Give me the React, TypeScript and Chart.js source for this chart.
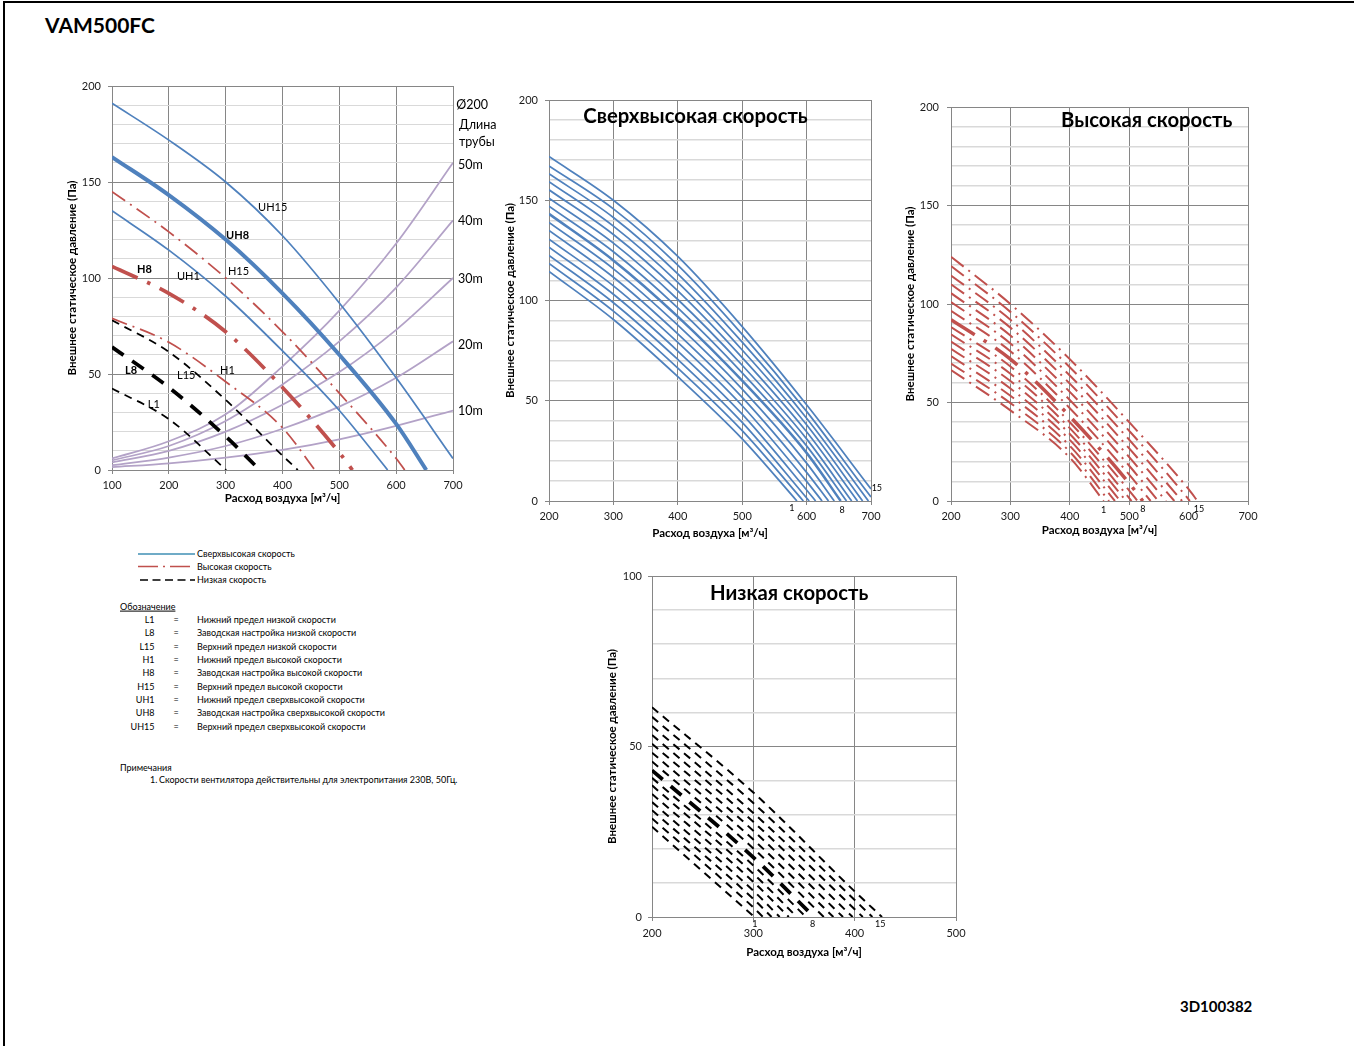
import React, { useEffect, useRef } from "react";
import { Chart, registerables } from "chart.js";

Chart.register(...registerables);

const FONT = "Lato, 'Open Sans', 'DejaVu Sans', sans-serif";
const BLUE = "#4f81bd";
const RED = "#c0504d";
const BLACK = "#000000";
const PURPLE = "#b3a2c7";
const MAJOR = "#868686";
const MINOR = "#d9d9d9";
const X_TITLE = "Расход воздуха [м³/ч]";
const Y_TITLE = "Внешнее статическое давление (Па)";

// ===== Summary chart: flow grid and curves (Pa) =====
const MAIN_X = [100, 200, 300, 400, 500, 600, 700];
const UH1_MAIN = [135, 114.5, 90.5, 62, 31];
const UH8_MAIN = [163, 143.2, 120, 92, 60, 24];
const UH15_MAIN = [191, 171.8, 150, 122, 87, 48, 6];
const H1_MAIN = [79, 66.5, 46, 22];
const H8_MAIN = [106, 92, 72, 43, 9];
const H15_MAIN = [145, 124, 100, 72, 40, 6];
const L1_MAIN = [42.5, 26.5];
const L8_MAIN = [64, 43, 17.5];
const L15_MAIN = [78, 61.5, 36.5, 7.5];
// flow at which each curve reaches 0 Pa (null = still above 0 at 700)
const UH1_END = 585;
const UH8_END = 653;
const H1_END = 457;
const H8_END = 523;
const H15_END = 615;
const L1_END = 301;
const L8_END = 360;
const L15_END = 427;
// duct resistance curves Ø200
const DUCT_50M = [6, 15, 29, 54, 83, 118, 160];
const DUCT_40M = [5, 12.5, 25.5, 44.5, 67, 95, 130];
const DUCT_30M = [4, 10, 20, 34, 51, 73, 100];
const DUCT_20M = [2.5, 6.5, 12.5, 21.5, 33, 48, 67];
const DUCT_10M = [1.5, 3.5, 6.5, 10.5, 16, 23, 31];

// ===== Ultra-high speed, steps 1..15 =====
const SPEED_X = [200, 300, 400, 500, 600, 700];
const UH_SERIES = [
  [114.5, 90.5, 62, 31],
  [118.5, 94.7, 66.3, 35.1],
  [122.5, 98.9, 70.6, 39.2],
  [126.6, 103.1, 74.8, 43.3, 5.5],
  [130.6, 107.3, 79.1, 47.5, 9.8],
  [134.9, 111.6, 83.4, 51.7, 14.3],
  [138.9, 115.8, 87.7, 55.8, 18.9],
  [143.2, 120, 92, 60, 24],
  [147, 124.3, 96.3, 63.9, 27.5],
  [151, 128.6, 100.5, 67.7, 31],
  [155.2, 132.9, 104.8, 71.5, 34.5],
  [159.3, 137.1, 109, 75.3, 38],
  [163.2, 141.4, 113.3, 79.2, 41.3],
  [167.1, 145.7, 117.6, 83.1, 44.7, 2],
  [171.8, 150, 122, 87, 48, 6],
];
const UH_ENDS = [585, 595, 604, 614, 624, 634, 643, 653, 662, 670, 679, 687, 696, 705, null];

// ===== High speed, steps 1..15 =====
const H_SERIES = [
  [66.5, 46, 22],
  [69.8, 49.7, 25],
  [73.6, 53.4, 28],
  [77.3, 57.1, 31],
  [80.9, 60.9, 34],
  [84.6, 64.6, 37, 1.5],
  [88.3, 68.3, 40, 5.3],
  [92, 72, 43, 9],
  [96.5, 76, 47.1, 13.4],
  [101, 80, 51.3, 17.9],
  [105.5, 84, 55.4, 22.3],
  [110, 88, 59.6, 26.7],
  [114.5, 92, 63.7, 31.1],
  [119.3, 96, 67.9, 35.6, 0.8],
  [124, 100, 72, 40, 6],
];
const H_ENDS = [457, 466, 476, 485, 495, 504, 514, 523, 536, 549, 562, 576, 589, 602, 615];

// ===== Low speed, steps 1..15 =====
const LOW_X = [200, 300, 400];
const L_SERIES = [
  [26.5],
  [28.9, 2.8],
  [31.3, 5.3],
  [33.7, 7.7],
  [36.1, 10.3],
  [38.6, 12.7],
  [40.8, 15.1],
  [43, 17.5],
  [45.6, 20.1],
  [48.2, 22.7],
  [50.8, 25.3],
  [53.4, 27.9],
  [56, 30.5, 2.3],
  [58.7, 33.4, 5],
  [61.5, 36.5, 7.5],
];
const L_ENDS = [301, 309.5, 318, 326, 335, 343, 352, 360, 369.5, 379, 388.5, 398, 408, 417.5, 427];

// ===== Text labels placed in data coordinates =====
type Note = { t: string; x: number; y: number; size: number; bold?: boolean; align?: CanvasTextAlign };

const MAIN_NOTES: Note[] = [
  { t: "UH15", x: 357, y: 136.5, size: 11 },
  { t: "UH8", x: 300.6, y: 122.4, size: 11, bold: true },
  { t: "H8", x: 144, y: 104.2, size: 11, bold: true },
  { t: "UH1", x: 214.4, y: 101, size: 11 },
  { t: "H15", x: 304, y: 103.6, size: 11 },
  { t: "L8", x: 123, y: 52, size: 11, bold: true },
  { t: "L15", x: 214.4, y: 49, size: 11 },
  { t: "H1", x: 290, y: 52, size: 11 },
  { t: "L1", x: 163, y: 34, size: 11 },
  { t: "Ø200", x: 705.5, y: 190, size: 12.5 },
  { t: "Длина", x: 710.5, y: 179.7, size: 12.5 },
  { t: "трубы", x: 710.5, y: 170.8, size: 12.5 },
  { t: "50m", x: 709, y: 159, size: 12.5 },
  { t: "40m", x: 709, y: 129.7, size: 12.5 },
  { t: "30m", x: 709, y: 99.5, size: 12.5 },
  { t: "20m", x: 709, y: 65, size: 12.5 },
  { t: "10m", x: 709, y: 31, size: 12.5 },
];
const UH_NOTES: Note[] = [
  { t: "Сверхвысокая скорость", x: 253.3, y: 191.7, size: 20.3, bold: true },
  { t: "1", x: 577, y: -3.5, size: 9, align: "center" },
  { t: "8", x: 655, y: -4.5, size: 9, align: "center" },
  { t: "15", x: 701, y: 6.5, size: 9 },
];
const H_NOTES: Note[] = [
  { t: "Высокая скорость", x: 385.2, y: 193.4, size: 20.3, bold: true },
  { t: "1", x: 457, y: -4.6, size: 9, align: "center" },
  { t: "8", x: 523, y: -4.3, size: 9, align: "center" },
  { t: "15", x: 617.5, y: -4.3, size: 9, align: "center" },
];
const L_NOTES: Note[] = [
  { t: "Низкая скорость", x: 257.3, y: 94.8, size: 20.3, bold: true },
  { t: "1", x: 301.4, y: -2.1, size: 9, align: "center" },
  { t: "8", x: 358.5, y: -2.1, size: 9, align: "center" },
  { t: "15", x: 425.2, y: -2.1, size: 9, align: "center" },
];

const LEGEND_ROWS = [
  ["L1", "Нижний предел низкой скорости"],
  ["L8", "Заводская настройка низкой скорости"],
  ["L15", "Верхний предел низкой скорости"],
  ["H1", "Нижний предел высокой скорости"],
  ["H8", "Заводская настройка высокой скорости"],
  ["H15", "Верхний предел высокой скорости"],
  ["UH1", "Нижний предел сверхвысокой скорости"],
  ["UH8", "Заводская настройка сверхвысокой скорости"],
  ["UH15", "Верхний предел сверхвысокой скорости"],
];

// ===== helpers =====
function pts(xs: number[], ys: number[], end: number | null) {
  const out = ys.map((y, i) => ({ x: xs[i], y }));
  if (end !== null) out.push({ x: end, y: 0 });
  return out;
}

function line(data: any[], color: string, width: number, dash: number[] = []) {
  return {
    data,
    borderColor: color,
    borderWidth: width,
    borderDash: dash,
    borderCapStyle: "butt",
    borderJoinStyle: "round",
    pointRadius: 0,
    pointHoverRadius: 0,
    fill: false,
    cubicInterpolationMode: "monotone",
  };
}

function notesPlugin(id: string, list: Note[]) {
  return {
    id,
    afterDraw(chart: any) {
      const ctx = chart.ctx;
      const xs = chart.scales.x;
      const ys = chart.scales.y;
      ctx.save();
      ctx.fillStyle = "#000";
      ctx.textBaseline = "middle";
      for (const n of list) {
        ctx.font = `${n.bold ? "bold " : ""}${n.size}px ${FONT}`;
        ctx.textAlign = n.align ?? "left";
        ctx.fillText(n.t, xs.getPixelForValue(n.x), ys.getPixelForValue(n.y));
      }
      ctx.restore();
    },
  };
}

type AxisCfg = { min: number; max: number; size: number; tickPad: number; titlePad: number };

function zeroPad(s: any) {
  s.paddingTop = 0;
  s.paddingBottom = 0;
  s.paddingLeft = 0;
  s.paddingRight = 0;
}

function makeScales(xa: AxisCfg, ya: AxisCfg, minorWidth: number) {
  const isMajor = (c: any) => c.tick && Math.round(c.tick.value) % 50 === 0;
  const titleFont = { family: FONT, size: 11.5, weight: "700" };
  return {
    x: {
      type: "linear",
      min: xa.min,
      max: xa.max,
      afterFit: (s: any) => {
        s.height = xa.size;
        zeroPad(s);
      },
      ticks: {
        stepSize: 100,
        autoSkip: false,
        maxRotation: 0,
        padding: xa.tickPad,
        color: "#1a1a1a",
        font: { family: FONT, size: 11 },
      },
      grid: { color: MAJOR, lineWidth: 1, tickLength: 4, tickColor: MAJOR },
      border: { color: MAJOR, width: 1 },
      title: {
        display: true,
        text: X_TITLE,
        color: "#000",
        font: titleFont,
        padding: { top: 0, bottom: xa.titlePad },
      },
    },
    y: {
      type: "linear",
      min: ya.min,
      max: ya.max,
      afterFit: (s: any) => {
        s.width = ya.size;
        zeroPad(s);
      },
      ticks: {
        stepSize: 10,
        autoSkip: false,
        padding: ya.tickPad,
        color: "#1a1a1a",
        font: { family: FONT, size: 11 },
        callback: (v: any) => (Math.round(Number(v)) % 50 === 0 ? String(v) : ""),
      },
      grid: {
        color: (c: any) => (isMajor(c) ? MAJOR : MINOR),
        lineWidth: (c: any) => (isMajor(c) ? 1 : minorWidth),
        tickLength: 4,
        tickColor: (c: any) => (isMajor(c) ? MAJOR : "rgba(0,0,0,0)"),
      },
      border: { color: MAJOR, width: 1 },
      title: {
        display: true,
        text: Y_TITLE,
        color: "#000",
        font: titleFont,
        padding: { top: ya.titlePad, bottom: 0 },
      },
    },
  };
}

function baseOptions(padding: any, scales: any) {
  return {
    responsive: false,
    animation: false,
    devicePixelRatio: 1,
    layout: { padding, autoPadding: false },
    plugins: { legend: { display: false }, tooltip: { enabled: false } },
    scales,
  };
}

// ===== chart configs =====
const THIN_DASHDOT = [16, 6, 2, 6];
const THICK_DASHDOT = [28, 10.5, 3.5, 10.5];
const THIN_DASH = [8, 6];
const THICK_DASH = [14, 10.5];

function mainConfig() {
  const datasets = [
    line(pts(MAIN_X, UH15_MAIN, null), BLUE, 1.75),
    line(pts(MAIN_X, UH8_MAIN, UH8_END), BLUE, 4),
    line(pts(MAIN_X, UH1_MAIN, UH1_END), BLUE, 1.75),
    line(pts(MAIN_X, H15_MAIN, H15_END), RED, 1.75, THIN_DASHDOT),
    line(pts(MAIN_X, H8_MAIN, H8_END), RED, 3.75, THICK_DASHDOT),
    line(pts(MAIN_X, H1_MAIN, H1_END), RED, 1.75, THIN_DASHDOT),
    line(pts(MAIN_X, L15_MAIN, L15_END), BLACK, 1.75, THIN_DASH),
    line(pts(MAIN_X, L8_MAIN, L8_END), BLACK, 3.75, THICK_DASH),
    line(pts(MAIN_X, L1_MAIN, L1_END), BLACK, 1.75, THIN_DASH),
    line(pts(MAIN_X, DUCT_50M, null), PURPLE, 1.75),
    line(pts(MAIN_X, DUCT_40M, null), PURPLE, 1.75),
    line(pts(MAIN_X, DUCT_30M, null), PURPLE, 1.75),
    line(pts(MAIN_X, DUCT_20M, null), PURPLE, 1.75),
    line(pts(MAIN_X, DUCT_10M, null), PURPLE, 1.75),
  ];
  return {
    type: "line",
    data: { datasets },
    options: baseOptions(
      { top: 11, right: 57, left: 0, bottom: 0 },
      makeScales(
        { min: 100, max: 700, size: 36, tickPad: 5, titlePad: 1 },
        { min: 0, max: 200, size: 52, tickPad: 7, titlePad: 5 },
        1
      )
    ),
    plugins: [notesPlugin("mainNotes", MAIN_NOTES)],
  };
}

function uhConfig() {
  const datasets = UH_SERIES.map((ys, i) =>
    line(pts(SPEED_X, ys, UH_ENDS[i]), BLUE, i === 7 ? 2.5 : 1.75)
  );
  return {
    type: "line",
    data: { datasets },
    options: baseOptions(
      { top: 10, right: 20, left: 0, bottom: 0 },
      makeScales(
        { min: 200, max: 700, size: 40, tickPad: 5, titlePad: 1 },
        { min: 0, max: 200, size: 49, tickPad: 7, titlePad: 3 },
        1.5
      )
    ),
    plugins: [notesPlugin("uhNotes", UH_NOTES)],
  };
}

function hConfig() {
  const datasets = H_SERIES.map((ys, i) =>
    line(pts(SPEED_X, ys, H_ENDS[i]), RED, i === 7 ? 3.5 : 2, i === 7 ? THICK_DASHDOT : THIN_DASHDOT)
  );
  return {
    type: "line",
    data: { datasets },
    options: baseOptions(
      { top: 12, right: 12, left: 0, bottom: 0 },
      makeScales(
        { min: 200, max: 700, size: 36, tickPad: 5, titlePad: 0 },
        { min: 0, max: 200, size: 56, tickPad: 8, titlePad: 8 },
        1.5
      )
    ),
    plugins: [notesPlugin("hNotes", H_NOTES)],
  };
}

function lConfig() {
  const datasets = L_SERIES.map((ys, i) =>
    line(pts(LOW_X, ys, L_ENDS[i]), BLACK, i === 7 ? 3.75 : 2, i === 7 ? THICK_DASH : THIN_DASH)
  );
  return {
    type: "line",
    data: { datasets },
    options: baseOptions(
      { top: 11, right: 20, left: 0, bottom: 0 },
      makeScales(
        { min: 200, max: 500, size: 44, tickPad: 6, titlePad: 1.5 },
        { min: 0, max: 100, size: 52, tickPad: 6, titlePad: 5 },
        1.5
      )
    ),
    plugins: [notesPlugin("lNotes", L_NOTES)],
  };
}

// ===== components =====
function ChartCanvas(props: { left: number; top: number; width: number; height: number; make: () => any }) {
  const ref = useRef<HTMLCanvasElement>(null);
  useEffect(() => {
    const chart = new Chart(ref.current as HTMLCanvasElement, props.make());
    return () => chart.destroy();
  }, []);
  return (
    <canvas
      ref={ref}
      width={props.width}
      height={props.height}
      style={{ position: "absolute", left: props.left, top: props.top, width: props.width, height: props.height }}
    />
  );
}

function Txt(props: {
  x: number;
  y: number;
  size: number;
  bold?: boolean;
  right?: boolean;
  center?: boolean;
  underline?: boolean;
  children: React.ReactNode;
}) {
  const tx = props.right ? "-100%" : props.center ? "-50%" : "0";
  return (
    <div
      style={{
        position: "absolute",
        left: props.x,
        top: props.y,
        transform: `translate(${tx}, -50%)`,
        fontFamily: FONT,
        fontSize: props.size,
        fontWeight: props.bold ? 700 : 400,
        lineHeight: 1.2,
        whiteSpace: "nowrap",
        color: "#000",
        textDecoration: props.underline ? "underline" : "none",
      }}
    >
      {props.children}
    </div>
  );
}

export default function App() {
  return (
    <div
      style={{
        position: "absolute",
        left: 0,
        top: 0,
        width: 1354,
        height: 1046,
        background: "#fff",
        overflow: "hidden",
      }}
    >
      <div style={{ position: "absolute", left: 3, top: 1, width: 1351, height: 2, background: "#000" }} />
      <div style={{ position: "absolute", left: 3, top: 1, width: 2, height: 1045, background: "#000" }} />

      <Txt x={45} y={25} size={21} bold>
        VAM500FC
      </Txt>
      <Txt x={1180} y={1006} size={15} bold>
        3D100382
      </Txt>

      <ChartCanvas left={60} top={75} width={450} height={431} make={mainConfig} />
      <ChartCanvas left={500} top={90} width={391} height={451} make={uhConfig} />
      <ChartCanvas left={895} top={95} width={365} height={442} make={hConfig} />
      <ChartCanvas left={600} top={565} width={376} height={396} make={lConfig} />

      <svg style={{ position: "absolute", left: 130, top: 545 }} width={70} height={45}>
        <line x1={8} y1={9} x2={65} y2={9} stroke="#3f8fb5" strokeWidth={1.5} />
        <line x1={8} y1={21.5} x2={65} y2={21.5} stroke={RED} strokeWidth={1.5} strokeDasharray="20 5 2 5" />
        <line x1={10} y1={35} x2={65} y2={35} stroke="#000" strokeWidth={1.5} strokeDasharray="8 4.5" />
      </svg>
      <Txt x={197} y={554} size={9}>Сверхвысокая скорость</Txt>
      <Txt x={197} y={566.5} size={9}>Высокая скорость</Txt>
      <Txt x={197} y={580} size={9}>Низкая скорость</Txt>

      <Txt x={120} y={607} size={9} underline>
        Обозначение
      </Txt>
      {LEGEND_ROWS.map((r, i) => (
        <React.Fragment key={r[0]}>
          <Txt x={154.5} y={620 + i * 13.35} size={9} right>
            {r[0]}
          </Txt>
          <Txt x={176} y={620 + i * 13.35} size={9} center>
            =
          </Txt>
          <Txt x={197} y={620 + i * 13.35} size={9}>
            {r[1]}
          </Txt>
        </React.Fragment>
      ))}

      <Txt x={120} y={768} size={9}>
        Примечания
      </Txt>
      <Txt x={150} y={779.5} size={9}>
        1.
      </Txt>
      <Txt x={159} y={779.5} size={9}>
        Скорости вентилятора действительны для электропитания 230В, 50Гц.
      </Txt>
    </div>
  );
}
